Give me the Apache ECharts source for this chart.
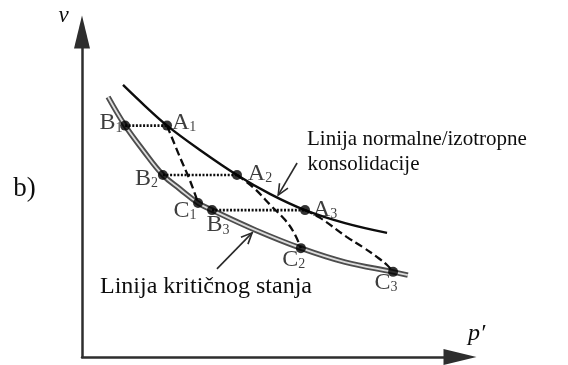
<!DOCTYPE html>
<html>
<head>
<meta charset="utf-8">
<script src="https://cdn.jsdelivr.net/npm/echarts@6/dist/echarts.min.js"></script>
<style>
  html, body { margin: 0; padding: 0; background: #fff; }
  #chart { width: 568px; height: 365px; }
</style>
</head>
<body>
<div id="chart"></div>
<script>
// State points in the (p', v) plane, arbitrary units (0-100 on both axes)
const pointNames = ['A1', 'A2', 'A3', 'B1', 'B2', 'B3', 'C1', 'C2', 'C3'];
const pointP = [22.5, 41.0, 59.0, 11.4, 21.4, 34.4, 30.7, 57.9, 82.3];
const pointV = [71.2, 56.0, 45.2, 71.2, 56.0, 45.2, 47.4, 33.5, 26.2];

// Normal / isotropic consolidation line
const nclP = [10.85, 16.7, 22.5, 31.2, 41.0, 49.7, 59.0, 69.6, 80.7];
const nclV = [83.7, 77.2, 71.2, 63.7, 56.0, 50.2, 45.2, 41.2, 38.2];

// Critical state line
const cslP = [6.9, 11.4, 16.1, 21.4, 25.9, 30.7, 34.4, 45.8, 57.9, 69.6, 82.3, 86.2];
const cslV = [80.0, 71.2, 63.7, 56.0, 51.7, 47.4, 45.2, 39.1, 33.5, 29.2, 26.2, 25.2];

// Undrained stress paths A -> C
const path1P = [22.5, 25.9, 28.6, 30.7];
const path1V = [71.2, 61.5, 54.2, 47.4];
const path2P = [41.0, 45.2, 50.3, 53.7, 56.1, 57.9];
const path2V = [56.0, 52.3, 46.2, 42.2, 38.2, 33.5];
const path3P = [59.0, 63.0, 70.1, 74.3, 78.0, 80.7, 82.3];
const path3V = [45.2, 42.8, 36.9, 33.8, 30.8, 28.3, 26.2];

// Drained paths B <- A (same v)
const drainedPairs = [['B1', 'A1'], ['B2', 'A2'], ['B3', 'A3']];

// Annotation arrows: [p from, v from, p to, v to]
const nclArrow = [56.9, 59.7, 51.9, 49.8];
const cslArrow = [35.7, 27.1, 45.0, 38.2];

// Label placement relative to each point, in pixels
const labelOffset = {
  A1: [17, -3], A2: [23, -1.5], A3: [20, -0.5],
  B1: [-14, -2.5], B2: [-16.5, 3.5], B3: [6, 15],
  C1: [-13, 7.5], C2: [-7, 11.5], C3: [-7, 10.5]
};

const zip = (xs, ys) => xs.map((x, i) => [x, ys[i]]);
const pointOf = name => {
  const i = pointNames.indexOf(name);
  return [pointP[i], pointV[i]];
};

const SERIF = '"Liberation Serif", "Times New Roman", serif';
const INK = '#0d0d0d';

const chart = echarts.init(document.getElementById('chart'), null, { renderer: 'canvas' });

const axisCommon = {
  type: 'value',
  min: 0,
  max: 100,
  axisLine: {
    show: true,
    symbol: ['none', 'triangle'],
    symbolSize: [16, 33],
    lineStyle: { color: '#2e2e2e', width: 2.5 }
  },
  axisTick: { show: false },
  axisLabel: { show: false },
  splitLine: { show: false }
};

const pathStyle = { color: INK, width: 2.3, type: [8, 4] };

const series = [
  // critical state line, drawn as a double line
  {
    type: 'line', data: zip(cslP, cslV), smooth: 0.4, showSymbol: false, silent: true, z: 2,
    lineStyle: { color: '#4d4d4d', width: 5.5 }
  },
  {
    type: 'line', data: zip(cslP, cslV), smooth: 0.4, showSymbol: false, silent: true, z: 2,
    lineStyle: { color: '#dcdcdc', width: 1.8 }
  },
  // normal consolidation line
  {
    type: 'line', data: zip(nclP, nclV), smooth: 0.4, showSymbol: false, silent: true, z: 2,
    lineStyle: { color: INK, width: 2.4 }
  },
  // undrained paths
  { type: 'line', data: zip(path1P, path1V), smooth: 0.4, showSymbol: false, silent: true, z: 2, lineStyle: pathStyle },
  { type: 'line', data: zip(path2P, path2V), smooth: 0.4, showSymbol: false, silent: true, z: 2, lineStyle: pathStyle },
  { type: 'line', data: zip(path3P, path3V), smooth: 0.4, showSymbol: false, silent: true, z: 2, lineStyle: pathStyle }
];

// drained (dotted) paths
drainedPairs.forEach(([b, a]) => {
  series.push({
    type: 'line', data: [pointOf(b), pointOf(a)], showSymbol: false, silent: true, z: 2,
    lineStyle: { color: INK, width: 2.6, type: [2, 1.6] }
  });
});

// annotation arrows with open heads
series.push({
  type: 'custom',
  silent: true,
  z: 2,
  data: [nclArrow, cslArrow],
  renderItem(params, api) {
    const s = api.coord([api.value(0), api.value(1)]);
    const e = api.coord([api.value(2), api.value(3)]);
    const ang = Math.atan2(e[1] - s[1], e[0] - s[0]);
    const len = 12, spread = 0.42;
    const w1 = [e[0] - len * Math.cos(ang - spread), e[1] - len * Math.sin(ang - spread)];
    const w2 = [e[0] - len * Math.cos(ang + spread), e[1] - len * Math.sin(ang + spread)];
    const st = { stroke: '#2a2a2a', lineWidth: 1.6, fill: null };
    return {
      type: 'group',
      children: [
        { type: 'line', shape: { x1: s[0], y1: s[1], x2: e[0], y2: e[1] }, style: st },
        { type: 'polyline', shape: { points: [w1, e, w2] }, style: st }
      ]
    };
  }
});

// point labels (below the dots)
series.push({
  type: 'scatter',
  z: 3,
  silent: true,
  symbolSize: 1,
  itemStyle: { color: 'rgba(0,0,0,0)' },
  data: pointNames.map((n, i) => ({
    name: n,
    value: [pointP[i], pointV[i]],
    label: { offset: labelOffset[n] }
  })),
  label: {
    show: true,
    position: 'inside',
    align: 'center',
    verticalAlign: 'middle',
    formatter: p => '{m|' + p.name.charAt(0) + '}{s|' + p.name.slice(1) + '}',
    rich: {
      m: { fontFamily: SERIF, fontSize: 24, lineHeight: 24, color: INK, verticalAlign: 'bottom' },
      s: { fontFamily: SERIF, fontSize: 14, lineHeight: 14, color: INK, verticalAlign: 'bottom' }
    }
  }
});

// state points
series.push({
  type: 'scatter',
  z: 5,
  silent: true,
  symbol: 'circle',
  symbolSize: 10,
  itemStyle: { color: '#000' },
  data: zip(pointP, pointV)
});

const textEl = (text, x, y, font, align) => ({
  type: 'text',
  x: x,
  y: y,
  silent: true,
  style: {
    text: text, font: font, fill: INK,
    align: align, verticalAlign: 'middle',
    textAlign: align, textVerticalAlign: 'middle'
  }
});

chart.setOption({
  animation: false,
  backgroundColor: '#fff',
  grid: { left: 82, right: 108, top: 32, bottom: 8, containLabel: false },
  xAxis: axisCommon,
  yAxis: axisCommon,
  series: series,
  graphic: [
    textEl('b)', 24.5, 189, '27px ' + SERIF, 'center'),
    textEl('v', 63.5, 16, 'italic 23px ' + SERIF, 'center'),
    textEl('p\u2032', 476.5, 334, 'italic 24px ' + SERIF, 'center'),
    textEl('Linija normalne/izotropne', 307, 139, '21px ' + SERIF, 'left'),
    textEl('konsolidacije', 307.5, 164, '21px ' + SERIF, 'left'),
    textEl('Linija kritičnog stanja', 100, 287, '24px ' + SERIF, 'left')
  ]
});
</script>
</body>
</html>
